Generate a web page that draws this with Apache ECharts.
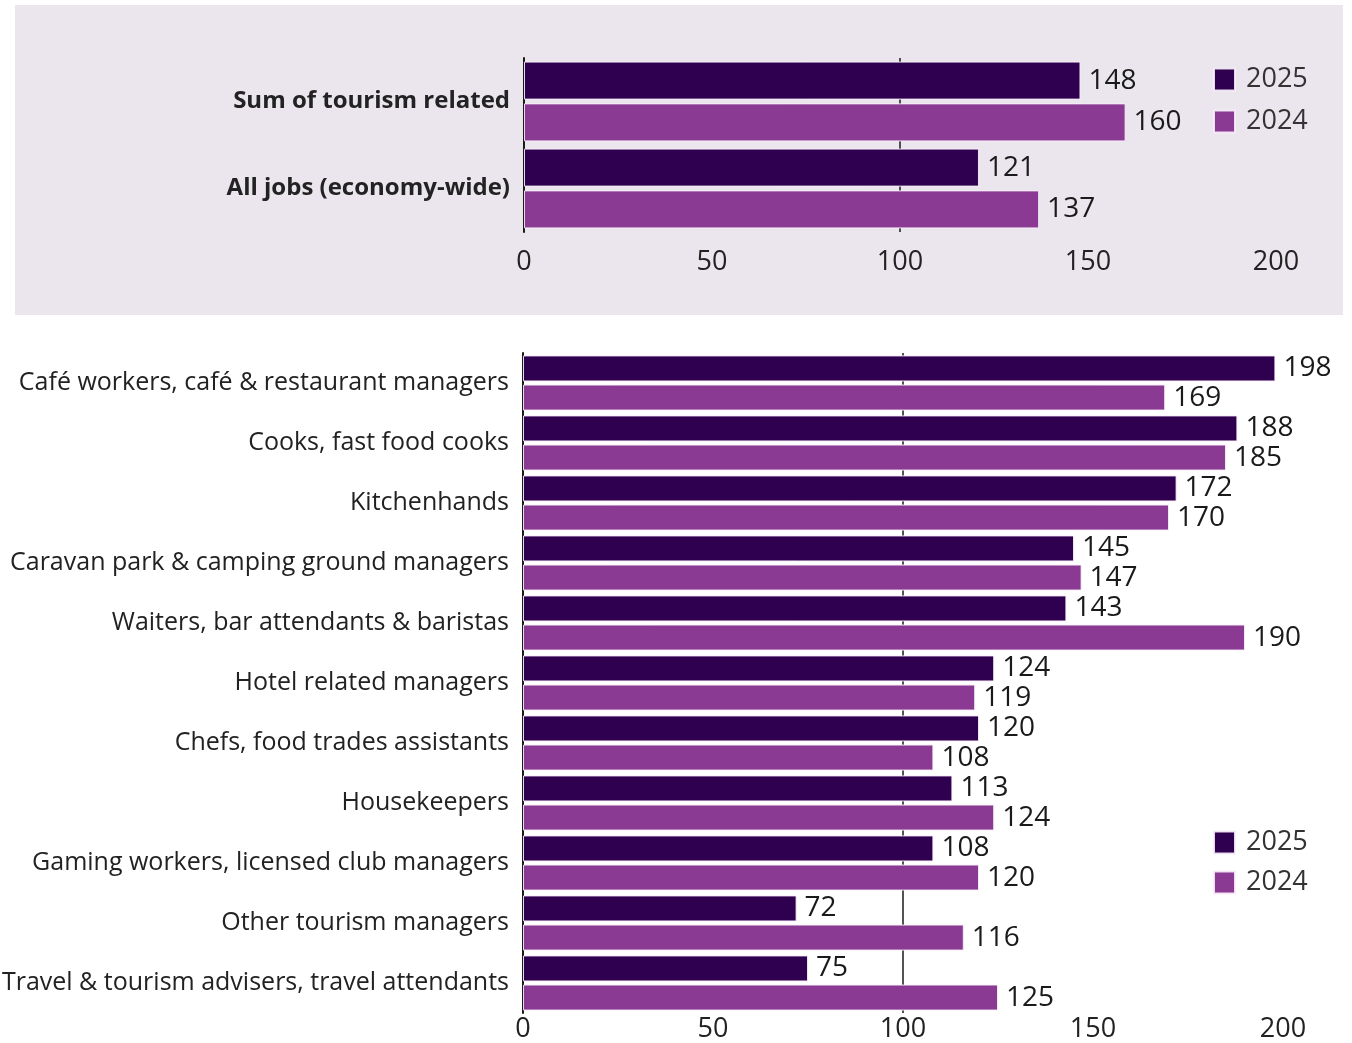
<!DOCTYPE html>
<html>
<head>
<meta charset="utf-8">
<script src="https://cdn.jsdelivr.net/npm/echarts@6/dist/echarts.min.js"></script>
<style>
  html, body { margin: 0; padding: 0; background: #ffffff; }
  #chart { width: 1352px; height: 1043px; }
</style>
</head>
<body>
<div id="chart"></div>
<script>
// Summary rows (top panel)
const summaryCategories = ['Sum of tourism related', 'All jobs (economy-wide)'];
const summary2025 = [148, 121];
const summary2024 = [160, 137];

// Occupation rows (bottom panel)
const occupationCategories = [
  'Café workers, café & restaurant managers',
  'Cooks, fast food cooks',
  'Kitchenhands',
  'Caravan park & camping ground managers',
  'Waiters, bar attendants & baristas',
  'Hotel related managers',
  'Chefs, food trades assistants',
  'Housekeepers',
  'Gaming workers, licensed club managers',
  'Other tourism managers',
  'Travel & tourism advisers, travel attendants'
];
const occupation2025 = [198, 188, 172, 145, 143, 124, 120, 113, 108, 72, 75];
const occupation2024 = [169, 185, 170, 147, 190, 119, 108, 124, 120, 116, 125];

const seriesNames = ['2025', '2024'];
const axisMin = 0, axisMax = 200, axisStep = 50, referenceValue = 100;

const DARK = '#2f004f';
const LIGHT = '#8a3a92';
const FONT = '"Open Sans", "Noto Sans", sans-serif';
const TEXT = '#222222';

function valueLabel() {
  return {
    show: true, position: 'right', distance: 8,
    fontFamily: FONT, fontSize: 28, fontWeight: 500, color: '#1a1a1a'
  };
}

function refLine() {
  return {
    silent: true, symbol: 'none', z: 1,
    label: { show: false },
    lineStyle: { color: '#1a1a1a', width: 1.5, type: 'solid' },
    data: [{ xAxis: referenceValue }]
  };
}

function bars(name, data, color, axisIndex, width, gap, withRef) {
  const s = {
    name: name, type: 'bar', data: data,
    xAxisIndex: axisIndex, yAxisIndex: axisIndex,
    barWidth: width, barGap: gap,
    itemStyle: { color: color, borderColor: 'rgba(248,238,250,0.9)', borderWidth: 1 },
    label: valueLabel(),
    emphasis: { disabled: true },
    z: 2
  };
  if (withRef) s.markLine = refLine();
  return s;
}

function valueAxis(gridIndex, margin) {
  return {
    type: 'value', gridIndex: gridIndex,
    min: axisMin, max: axisMax, interval: axisStep,
    axisLine: { show: false }, axisTick: { show: false }, splitLine: { show: false },
    axisLabel: { fontFamily: FONT, fontSize: 27, color: TEXT, margin: margin }
  };
}

function categoryAxis(gridIndex, cats, bold) {
  return {
    type: 'category', gridIndex: gridIndex, data: cats, inverse: true,
    axisLine: { show: true, lineStyle: { color: '#1a1a1a', width: 2 } },
    axisTick: { show: false },
    axisLabel: bold
      ? { fontFamily: FONT, fontSize: 24, color: TEXT, margin: 14, fontWeight: 'bold', padding: [0, 0, 12, 0] }
      : { fontFamily: FONT, fontSize: 25, color: TEXT, margin: 14, fontWeight: 'normal' }
  };
}

function legendAt(top, gap) {
  return {
    data: seriesNames, orient: 'vertical', left: 1213, top: top, padding: 0,
    icon: 'rect', itemWidth: 21, itemHeight: 22, itemGap: gap,
    selectedMode: false,
    textStyle: { fontFamily: FONT, fontSize: 27, color: '#333333', padding: [0, 0, 0, 6] }
  };
}

const chart = echarts.init(document.getElementById('chart'), null, { renderer: 'canvas' });

chart.setOption({
  animation: false,
  backgroundColor: '#ffffff',
  graphic: [{
    type: 'rect', z: -10, silent: true,
    shape: { x: 15, y: 5, width: 1328, height: 310 },
    style: { fill: '#ebe6ee' }
  }],
  legend: [legendAt(66, 15), legendAt(829, 13)],
  grid: [
    { left: 524, top: 58, width: 752, height: 174, containLabel: false, outerBoundsMode: 'none' },
    { left: 523, top: 353, width: 760, height: 660, containLabel: false, outerBoundsMode: 'none' }
  ],
  xAxis: [valueAxis(0, 17), valueAxis(1, 3)],
  yAxis: [categoryAxis(0, summaryCategories, true), categoryAxis(1, occupationCategories, false)],
  series: [
    bars(seriesNames[0], summary2025, DARK, 0, 38, '10%', true),
    bars(seriesNames[1], summary2024, LIGHT, 0, 38, '10%', false),
    bars(seriesNames[0], occupation2025, DARK, 1, 26, '12%', true),
    bars(seriesNames[1], occupation2024, LIGHT, 1, 26, '12%', false)
  ]
});
</script>
</body>
</html>
